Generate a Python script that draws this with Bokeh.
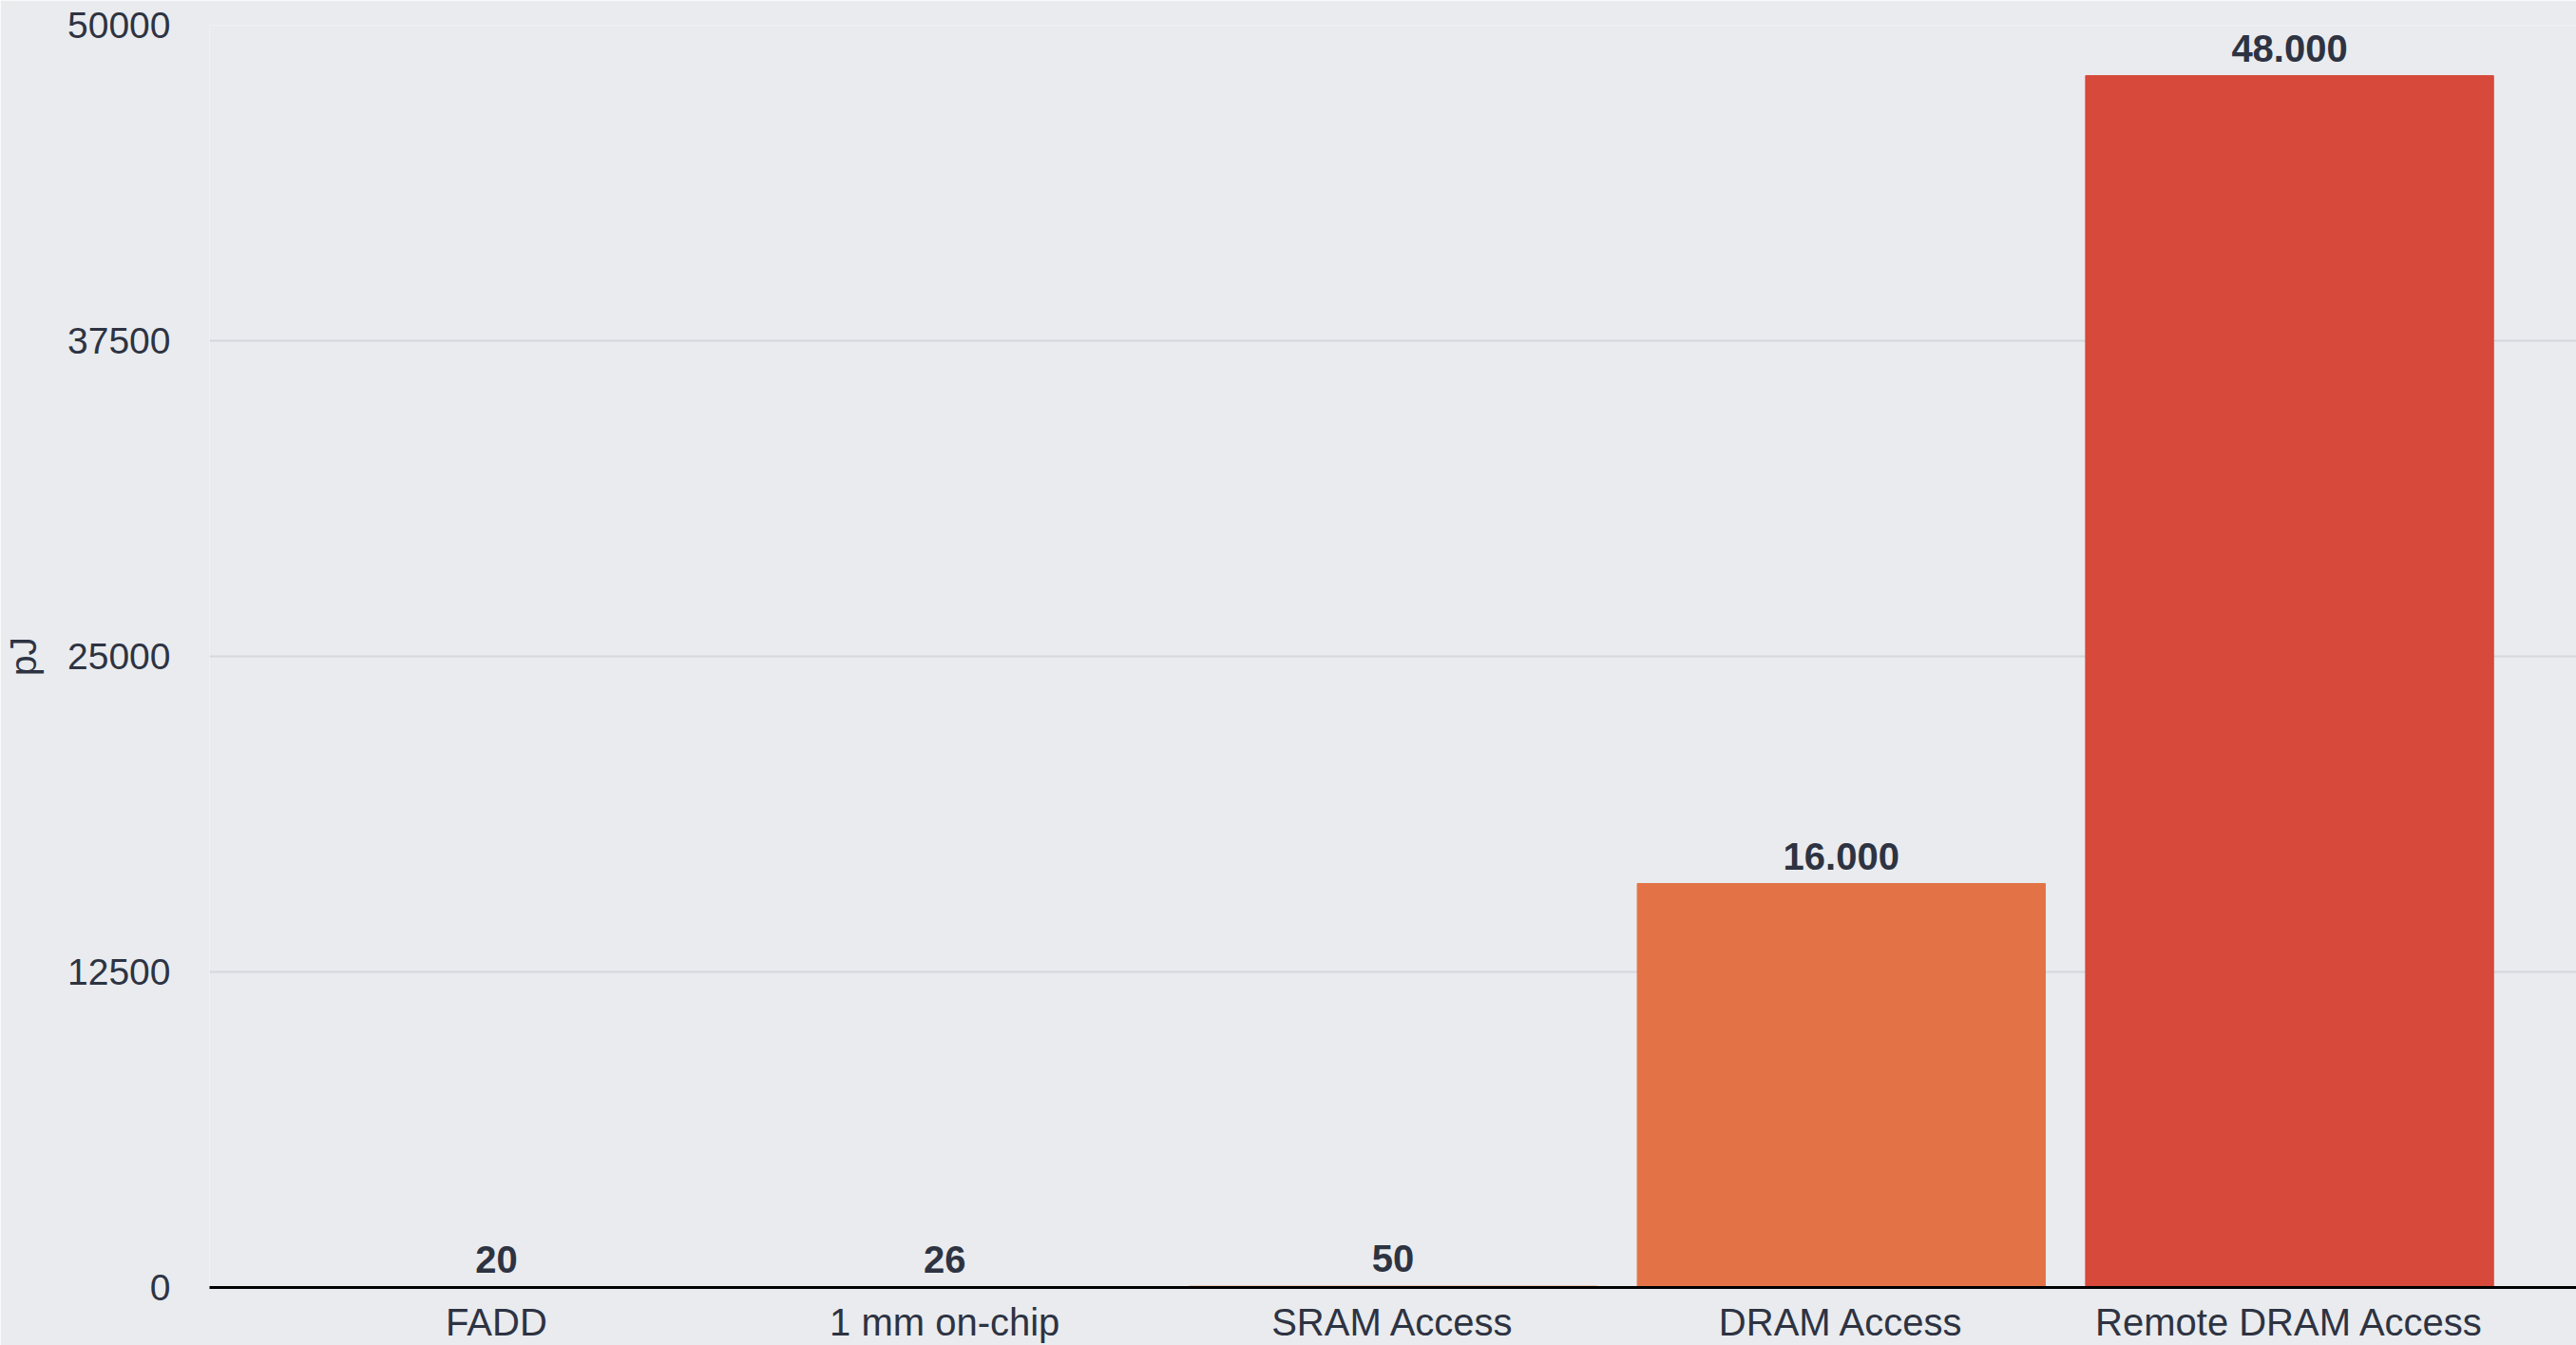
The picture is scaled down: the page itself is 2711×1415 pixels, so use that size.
from bokeh.plotting import figure
from bokeh.models import FactorRange, Range1d, FixedTicker, ColumnDataSource, LabelSet
from bokeh.core.properties import value
from bokeh.embed import file_html
from bokeh.resources import INLINE

categories = ["FADD", "1 mm on-chip", "SRAM Access", "DRAM Access", "Remote DRAM Access"]
energy_pj = [20, 26, 50, 16000, 48000]
value_labels = ["20", "26", "50", "16.000", "48.000"]
bar_colors = ["#f2c14e", "#eea24a", "#e8873f", "#e37347", "#d6493b"]
y_ticks = [0, 12500, 25000, 37500, 50000]

BG = "#e9ebee"
TEXT = "#2e3342"
FONT = "Liberation Sans"

src = ColumnDataSource(dict(cat=categories, val=energy_pj, lab=value_labels, col=bar_colors))

p = figure(
    width=2711, height=1415,
    x_range=FactorRange(factors=categories, range_padding=0.14, range_padding_units="absolute"),
    y_range=Range1d(0, 50000),
    output_backend="svg", toolbar_location=None,
    min_border_left=218, min_border_right=0, min_border_top=26, min_border_bottom=56,
)
p.background_fill_color = BG
p.border_fill_color = BG
p.outline_line_color = None

p.vbar(x="cat", top="val", width=0.91, color="col", source=src)
labels = LabelSet(x="cat", y="val", text="lab", source=src,
                  text_font=value(FONT), text_font_style="bold", text_font_size="40px",
                  text_color=TEXT, text_align="center", text_baseline="alphabetic", y_offset=15)
p.add_layout(labels)

# y axis
p.yaxis.ticker = FixedTicker(ticks=y_ticks)
p.yaxis.axis_line_color = None
p.yaxis.major_tick_line_color = None
p.yaxis.minor_tick_line_color = None
p.yaxis.major_label_standoff = 35
p.yaxis.major_label_text_font = FONT
p.yaxis.major_label_text_font_size = "39px"
p.yaxis.major_label_text_color = TEXT
p.yaxis.axis_label = "pJ"
p.yaxis.axis_label_text_font = FONT
p.yaxis.axis_label_text_font_size = "39px"
p.yaxis.axis_label_text_font_style = "normal"
p.yaxis.axis_label_text_color = TEXT
p.yaxis.axis_label_standoff = 22
p.yaxis.formatter.use_scientific = False

# x axis
p.xaxis.axis_line_color = "black"
p.xaxis.axis_line_width = 3
p.xaxis.major_tick_line_color = None
p.xaxis.minor_tick_line_color = None
p.xaxis.major_label_standoff = 8
p.xaxis.major_label_text_font = FONT
p.xaxis.major_label_text_font_size = "40px"
p.xaxis.major_label_text_color = TEXT

p.xgrid.grid_line_color = None
p.ygrid.grid_line_color = "#d4d7db"
p.ygrid.grid_line_width = 2

open("out.html", "w").write(file_html(p, INLINE))
